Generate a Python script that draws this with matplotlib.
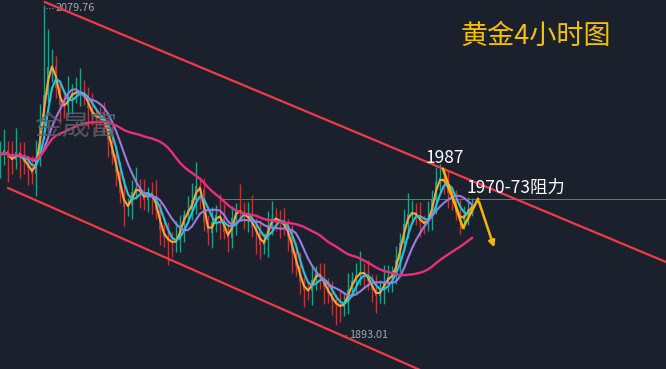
import matplotlib
matplotlib.use('Agg')
import matplotlib.pyplot as plt
import numpy as np
import pandas as pd

plt.rcParams['font.family'] = ['Noto Sans CJK SC', 'DejaVu Sans']

# gold 4H, one candle per bar
closes = [1992.2, 1995.2, 1990.5, 1989.3, 1994.0, 1991.1, 1988.2, 1984.7, 1981.2, 1991.1,
          2009.8, 2027.3, 2043.6, 2044.2, 2031.3, 2021.4, 2020.8, 2026.1, 2028.4, 2029.0,
          2029.0, 2026.7, 2019.7, 2015.6, 2014.4, 2013.3, 2011.5, 2001.0, 1992.2, 1982.3,
          1970.1, 1961.9, 1963.1, 1970.7, 1973.0, 1970.1, 1966.0, 1970.7, 1967.7, 1960.1,
          1948.5, 1944.4, 1942.1, 1940.9, 1942.6, 1951.4, 1957.2, 1960.1, 1966.0, 1974.2,
          1971.8, 1953.1, 1946.7, 1953.1, 1957.2, 1955.5, 1947.3, 1943.8, 1955.5, 1960.1,
          1959.0, 1956.1, 1956.1, 1950.2, 1947.3, 1939.7, 1942.6, 1951.4, 1955.5, 1954.9,
          1952.6, 1950.8, 1944.4, 1935.1, 1927.5, 1918.1, 1913.5, 1912.9, 1919.3, 1923.4,
          1921.0, 1915.2, 1911.7, 1907.0, 1904.7, 1903.5, 1906.5, 1913.5, 1918.7, 1922.2,
          1924.0, 1922.8, 1918.7, 1913.5, 1910.0, 1913.5, 1918.1, 1921.0, 1922.2, 1931.0,
          1940.9, 1952.0, 1957.8, 1959.0, 1956.6, 1953.1, 1952.0, 1955.5, 1966.0, 1976.5,
          1978.8, 1976.5, 1970.1, 1966.0, 1958.4, 1954.3, 1957.2, 1960.7, 1963.1]
first_open = 1989.0
upper_wick = [8, 12, 5, 10, 14, 6, 9, 4, 7, 10,
              12, 52.46, 22, 10, 6, 4, 8, 12, 5, 9,
              14, 7, 5, 9, 4, 6, 10, 3, 8, 5,
              6, 9, 4, 7, 12, 5, 8, 3, 6, 10,
              4, 7, 9, 5, 11, 6, 3, 8, 10, 14,
              5, 7, 4, 9, 6, 12, 8, 5, 7, 4,
              15, 6, 9, 13, 5, 7, 4, 8, 10, 6,
              5, 9, 4, 7, 6, 8, 3, 5, 9, 4,
              6, 8, 5, 7, 4, 9, 6, 10, 5, 7,
              12, 5, 8, 4, 9, 6, 10, 7, 5, 8,
              6, 9, 12, 7, 5, 8, 4, 10, 6, 9,
              8.2, 5, 7, 4, 6, 9, 5, 7, 4]
lower_wick = [10, 6, 14, 8, 5, 12, 7, 10, 6, 13,
              5, 8, 4, 9, 6, 11, 7, 5, 10, 6,
              8, 5, 12, 6, 9, 4, 7, 10, 5, 8,
              6, 11, 5, 8, 4, 9, 6, 7, 10, 5,
              9, 6, 14, 8, 5, 7, 10, 4, 6, 8,
              11, 5, 7, 9, 6, 12, 4, 8, 6, 10,
              5, 7, 9, 6, 13, 8, 5, 10, 6, 7,
              9, 5, 8, 12, 6, 7, 10, 5, 8, 6,
              7, 10, 6, 8, 11.69, 9, 5, 7, 4, 8,
              6, 9, 5, 7, 10, 4, 8, 6, 9, 5,
              7, 4, 8, 6, 5, 9, 6, 4, 7, 8,
              5, 7, 9, 6, 4, 8, 5, 6, 4]

ma_windows = [2, 4, 8, 32]
ma_colors = ['#f7a53b', '#27c3dc', '#9b7be3', '#e8307a']

# drawn lines (bar index, price)
upper_channel = ([11.2, 166.5], [2081.5, 1929.8])
lower_channel = ([2.0, 105.0], [1973.0, 1866.8])
resistance = 1966.6
resistance_from = 55.5
forecast_x = [110.75, 115.75, 119.5, 123.75]
forecast_y = [1984.1, 1949.6, 1966.6, 1936.8]

df = pd.DataFrame({'close': closes, 'up': upper_wick, 'dn': lower_wick})
df['open'] = df['close'].shift(1).fillna(first_open)
df['top'] = df[['open', 'close']].max(axis=1)
df['bot'] = df[['open', 'close']].min(axis=1)
df['high'] = df['top'] + df['up']
df['low'] = df['bot'] - df['dn']
idx = np.arange(len(df))

bg = '#1b202d'
fig = plt.figure(figsize=(6.66, 3.69), dpi=100, facecolor=bg)
ax = fig.add_axes([0, 0, 1, 1])
ax.set_facecolor(bg)
ax.axis('off')
ax.set_xlim(0, 166.5)
ax.set_ylim(1867.35, 2082.7)

col = np.where(df['close'] >= df['open'], '#1f9e8c', '#b8383c')
ax.vlines(idx, df['low'], df['high'], colors=col, linewidth=1.0, zorder=2)
ax.bar(idx, (df['top'] - df['bot']).clip(lower=0.4), bottom=df['bot'], width=0.55,
       color=col, zorder=2)

for w, c in zip(ma_windows, ma_colors):
    ma = df['close'].rolling(w, min_periods=1).mean()
    ax.plot(idx, ma, color=c, linewidth=1.5 if w < 20 else 1.7, zorder=3)

ax.plot(*upper_channel, color='#f23a48', linewidth=1.6, zorder=4)
ax.plot(*lower_channel, color='#f23a48', linewidth=1.6, zorder=4)
ax.plot([resistance_from, 166.5], [resistance, resistance], color='#3d6cff', linewidth=0.72,
        antialiased=False, zorder=1)

ax.plot(forecast_x[:-1], forecast_y[:-1], color='#f5b800', linewidth=1.8, zorder=5)
ax.annotate('', xy=(forecast_x[-1], forecast_y[-1]), xytext=(forecast_x[-2], forecast_y[-2]),
            arrowprops=dict(arrowstyle='-|>', color='#f5b800', lw=1.8, mutation_scale=9),
            zorder=5)

ax.text(111.25, 1990.5, '1987', color='white', fontsize=12.5, ha='center', va='center', zorder=6)
ax.text(116.75, 1973.0, '1970-73阻力', color='white', fontsize=12.5, ha='left', va='center', zorder=6)
fig.text(0.691, 0.90, '黄金4小时图', color='#f5c000', fontsize=19.5, ha='left', va='center')

hi_i = int(df['high'].idxmax())
lo_i = int(df['low'].idxmin())
ax.plot([hi_i + 0.6, hi_i + 2.2], [df['high'][hi_i] - 1.5] * 2, color='#8a8f99', lw=0.8, ls=':')
ax.text(hi_i + 2.8, df['high'][hi_i] - 1.7, '%.2f' % df['high'][hi_i], color='#a3a8b0',
        fontsize=7.8, ha='left', va='center')
ax.plot([lo_i + 1.4, lo_i + 2.6], [df['low'][lo_i] - 5.8] * 2, color='#8a8f99', lw=0.8, ls=':')
ax.text(lo_i + 3.2, df['low'][lo_i] - 5.8, '%.2f' % df['low'][lo_i], color='#a3a8b0',
        fontsize=7.8, ha='left', va='center')

ax.text(19, 2008.6, '金晟富', color='#5c606a', alpha=0.85, fontsize=20, ha='center',
        va='center', zorder=7)

fig.savefig('out.png', dpi=100, facecolor=bg)
